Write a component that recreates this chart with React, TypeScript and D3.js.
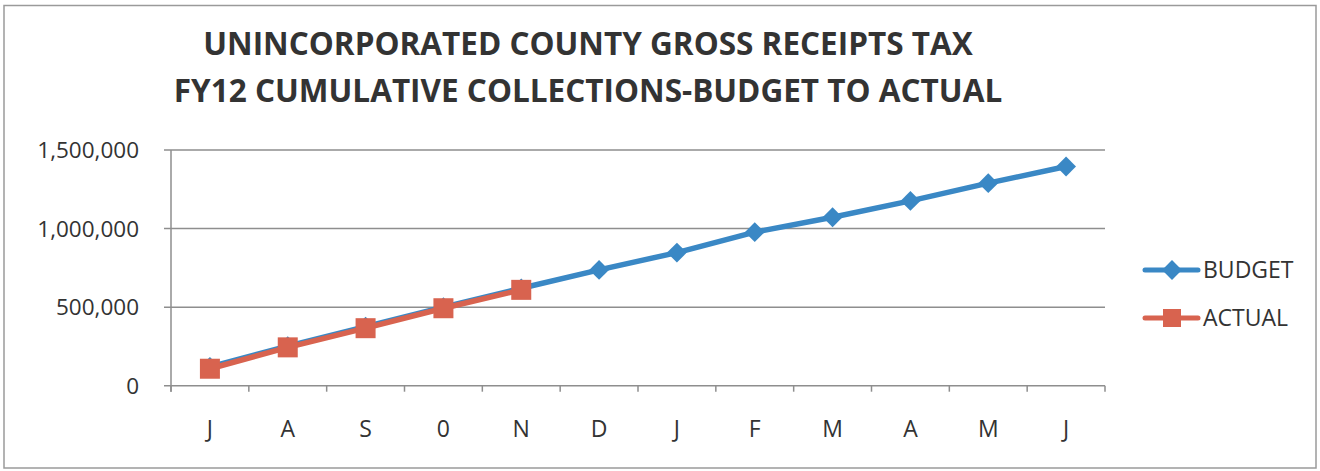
import * as React from 'react'
import { useEffect, useRef } from 'react'
import * as d3 from 'd3'

const months = ['J', 'A', 'S', '0', 'N', 'D', 'J', 'F', 'M', 'A', 'M', 'J']
const budget = [120000, 252000, 376000, 500000, 620000, 737000, 847000, 977000, 1072000, 1176000, 1289000, 1395000]
const actual = [108000, 244000, 366000, 493000, 610000]
const yTicks = [0, 500000, 1000000, 1500000]
const titleLines = ['UNINCORPORATED COUNTY GROSS RECEIPTS TAX', 'FY12 CUMULATIVE COLLECTIONS-BUDGET TO ACTUAL']

const W = 1320
const H = 471
const BLUE = '#3a88c5'
const RED = '#d8634f'
const GRID = '#8e8e8e'
const TEXT = '#333333'

const App = () => {
    const chartRef = useRef<SVGSVGElement>(null)

    useEffect(() => {
        const svg = d3.select(chartRef.current)
        svg.selectAll('*').remove()

        const left = 171, right = 1105, top = 150, bottom = 385.7

        // outer frame
        svg.append('rect')
            .attr('x', 4).attr('y', 5.5)
            .attr('width', 1312).attr('height', 462.5)
            .attr('fill', 'white')
            .attr('stroke', '#9a9a9a')
            .attr('stroke-width', 1.5)

        // title
        svg.selectAll('.title')
            .data(titleLines)
            .enter()
            .append('text')
            .attr('x', 588)
            .attr('y', (d, i) => 55 + i * 47)
            .attr('text-anchor', 'middle')
            .style('font-family', 'Open Sans, sans-serif')
            .style('font-weight', 'bold')
            .style('font-size', '31.5px')
            .attr('fill', TEXT)
            .text(d => d)

        const x = d3.scaleBand<number>()
            .domain(d3.range(months.length))
            .range([left, right])
            .paddingInner(0)
        const cx = (i: number) => (x(i) as number) + x.bandwidth() / 2

        const y = d3.scaleLinear()
            .domain([0, 1500000])
            .range([bottom, top])

        // horizontal gridlines + y labels
        svg.selectAll('.grid')
            .data(yTicks)
            .enter()
            .append('line')
            .attr('x1', left - 7)
            .attr('x2', right)
            .attr('y1', d => y(d))
            .attr('y2', d => y(d))
            .attr('stroke', GRID)
            .attr('stroke-width', 1.5)

        svg.selectAll('.ylab')
            .data(yTicks)
            .enter()
            .append('text')
            .attr('x', 139)
            .attr('y', d => y(d) + 8)
            .attr('text-anchor', 'end')
            .style('font-family', 'Open Sans, sans-serif')
            .style('font-size', '22.5px')
            .attr('fill', TEXT)
            .text(d => d3.format(',')(d))

        // y axis line
        svg.append('line')
            .attr('x1', left).attr('x2', left)
            .attr('y1', top).attr('y2', bottom + 6)
            .attr('stroke', GRID)
            .attr('stroke-width', 1.5)

        // x ticks at category boundaries
        const boundaries = d3.range(months.length + 1).map(i => i < months.length ? (x(i) as number) : right)
        svg.selectAll('.xtick')
            .data(boundaries)
            .enter()
            .append('line')
            .attr('x1', d => d).attr('x2', d => d)
            .attr('y1', bottom).attr('y2', bottom + 6)
            .attr('stroke', GRID)
            .attr('stroke-width', 1.5)

        svg.selectAll('.xlab')
            .data(months)
            .enter()
            .append('text')
            .attr('x', (d, i) => cx(i))
            .attr('y', 437)
            .attr('text-anchor', 'middle')
            .style('font-family', 'Open Sans, sans-serif')
            .style('font-size', '23px')
            .attr('fill', TEXT)
            .text(d => d)

        const line = d3.line<number>()
            .x((d, i) => cx(i))
            .y(d => y(d))

        // budget series
        svg.append('path')
            .datum(budget)
            .attr('d', line)
            .attr('fill', 'none')
            .attr('stroke', BLUE)
            .attr('stroke-width', 5.5)
            .attr('stroke-linejoin', 'round')

        const diamond = d3.symbol().type(d3.symbolDiamond2).size(250)
        svg.selectAll('.bpt')
            .data(budget)
            .enter()
            .append('path')
            .attr('d', diamond)
            .attr('transform', (d, i) => `translate(${cx(i)},${y(d)})`)
            .attr('fill', BLUE)

        // actual series
        svg.append('path')
            .datum(actual)
            .attr('d', line)
            .attr('fill', 'none')
            .attr('stroke', RED)
            .attr('stroke-width', 5.5)
            .attr('stroke-linejoin', 'round')

        svg.selectAll('.apt')
            .data(actual)
            .enter()
            .append('rect')
            .attr('x', (d, i) => cx(i) - 10)
            .attr('y', d => y(d) - 10)
            .attr('width', 20)
            .attr('height', 20)
            .attr('fill', RED)

        // legend
        const legend = svg.append('g')
        const items = [
            { name: 'BUDGET', color: BLUE, ly: 270 },
            { name: 'ACTUAL', color: RED, ly: 318 },
        ]
        items.forEach((it, k) => {
            legend.append('line')
                .attr('x1', 1145).attr('x2', 1198)
                .attr('y1', it.ly).attr('y2', it.ly)
                .attr('stroke', it.color)
                .attr('stroke-width', 5)
                .attr('stroke-linecap', 'round')
            if (k === 0) {
                legend.append('path')
                    .attr('d', diamond)
                    .attr('transform', `translate(1172,${it.ly})`)
                    .attr('fill', it.color)
            } else {
                legend.append('rect')
                    .attr('x', 1163).attr('y', it.ly - 9)
                    .attr('width', 18).attr('height', 18)
                    .attr('fill', it.color)
            }
            legend.append('text')
                .attr('x', 1203)
                .attr('y', it.ly + 8)
                .style('font-family', 'Open Sans, sans-serif')
                .style('font-size', '23px')
                .attr('fill', TEXT)
                .text(it.name)
        })
    }, [])

    return (
        <svg ref={chartRef} width={W} height={H}
            style={{ position: 'absolute', left: 0, top: 0, background: 'white' }}></svg>
    )
}

export default App
